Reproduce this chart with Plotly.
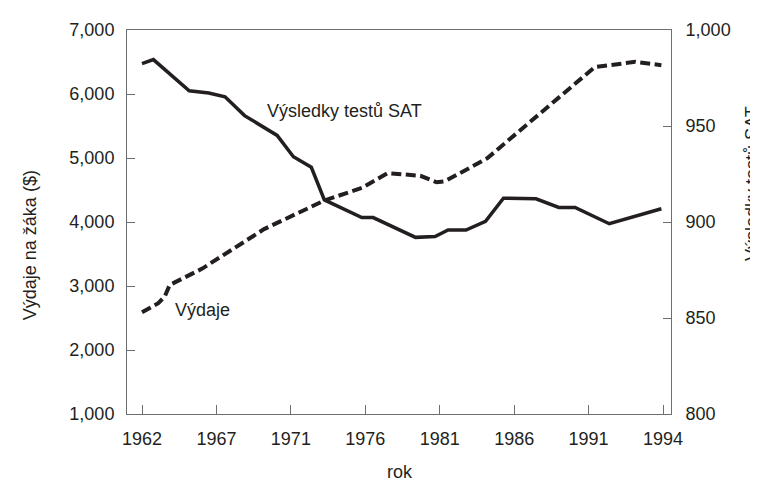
import numpy as np
import plotly.graph_objects as go

# ---- data ----
sat_years = [1962.0, 1962.7, 1964.9, 1966.1, 1967.1, 1968.3, 1970.3, 1971.3, 1972.4,
             1973.2, 1975.5, 1976.2, 1978.8, 1980.0, 1980.8, 1981.9, 1983.1, 1984.2,
             1986.2, 1987.6, 1988.6, 1990.7, 1993.9]
sat_scores = [982.5, 984.6, 968.3, 967.2, 965.2, 955.4, 945.1, 934.0, 928.5,
              911.5, 902.3, 902.3, 892.0, 892.4, 895.8, 895.8, 900.4, 912.4,
              912.1, 907.6, 907.6, 899.1, 906.9]

spend_years = [1962.0, 1963.0, 1963.4, 1963.7, 1965.7, 1969.5, 1973.2, 1975.5,
               1977.1, 1979.1, 1980.1, 1980.6, 1983.2, 1984.4, 1989.8, 1992.3, 1993.9]
spend_dollars = [2589, 2732, 2836, 3016, 3272, 3889, 4336, 4532,
                 4764, 4722, 4620, 4636, 4995, 5253, 6419, 6502, 6450]

x_tick_labels = ["1962", "1967", "1971", "1976", "1981", "1986", "1991", "1994"]
left_ticks = [1000, 2000, 3000, 4000, 5000, 6000, 7000]
right_ticks = [800, 850, 900, 950, 1000]

INK = "#231f20"
AXIS = "#6d6e70"
FONT = "Liberation Sans, Arial, Helvetica, sans-serif"

fig = go.Figure()
fig.add_trace(go.Scatter(x=spend_years, y=spend_dollars, mode="lines",
                         line=dict(color=INK, width=4, dash="10px,4.5px"),
                         yaxis="y", showlegend=False, hoverinfo="skip"))
fig.add_trace(go.Scatter(x=sat_years, y=sat_scores, mode="lines",
                         line=dict(color=INK, width=3.5),
                         yaxis="y2", showlegend=False, hoverinfo="skip"))

tick_positions = list(np.linspace(1962, 1994, len(x_tick_labels)))

# page body has an 8px margin, so the figure is 8px smaller than the window
fig.update_layout(
    width=750, height=473,
    margin=dict(l=119, r=87, t=17, b=67),
    paper_bgcolor="white", plot_bgcolor="white",
    font=dict(family=FONT, size=18, color=INK),
    xaxis=dict(range=[1961.079, 1994.491], tickmode="array",
               tickvals=tick_positions, ticktext=x_tick_labels,
               ticks="inside", ticklen=9, tickwidth=1, tickcolor=AXIS,
               showline=True, linecolor=AXIS, linewidth=1, mirror=True,
               showgrid=False, zeroline=False, ticklabelstandoff=8,
               tickfont=dict(size=18, color=INK)),
    yaxis=dict(range=[1000, 7000], tickmode="array", tickvals=left_ticks,
               tickformat=",d", ticks="inside", ticklen=8, tickwidth=1,
               tickcolor=AXIS, showline=True, linecolor=AXIS, linewidth=1,
               showgrid=False, zeroline=False, ticklabelstandoff=8,
               tickfont=dict(size=18, color=INK)),
    yaxis2=dict(range=[800, 1000], overlaying="y", side="right",
                tickmode="array", tickvals=right_ticks, tickformat=",d",
                ticks="inside", ticklen=8, tickwidth=1, tickcolor=AXIS,
                showline=True, linecolor=AXIS, linewidth=1,
                showgrid=False, zeroline=False, ticklabelstandoff=10,
                tickfont=dict(size=18, color=INK)),
)

annotations = [
    dict(text="Výsledky testů SAT", x=1969.55, y=5735, xref="x", yref="y",
         xanchor="left", yanchor="middle", showarrow=False),
    dict(text="Výdaje", x=1963.9, y=2620, xref="x", yref="y",
         xanchor="left", yanchor="middle", showarrow=False),
    dict(text="rok", x=0.502, y=-0.1517, xref="paper", yref="paper",
         xanchor="center", yanchor="middle", showarrow=False),
    dict(text="Výdaje na žáka ($)", x=-0.1783, y=0.4396, xref="paper", yref="paper",
         xanchor="center", yanchor="middle", textangle=-90, showarrow=False),
    dict(text="Výsledky testů SAT", x=1.1489, y=0.599, xref="paper", yref="paper",
         xanchor="center", yanchor="middle", textangle=-90, showarrow=False),
]
for a in annotations:
    a["font"] = dict(family=FONT, size=18, color=INK)
fig.update_layout(annotations=annotations)

fig.write_html("out.html")
